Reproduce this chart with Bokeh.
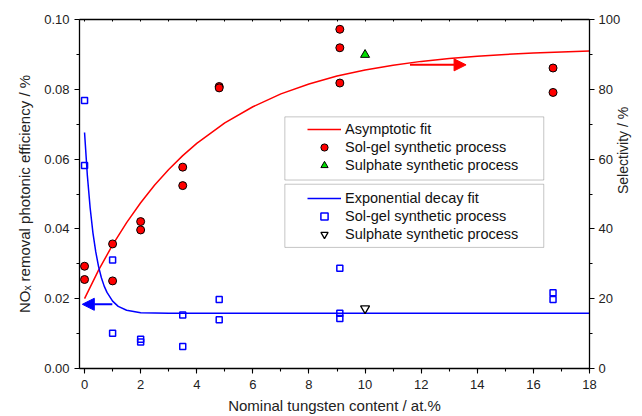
import math
from bokeh.plotting import figure
from bokeh.models import (Range1d, LinearAxis, SingleIntervalTicker, PrintfTickFormatter,
                          Legend, LegendItem, BoxAnnotation, Arrow, NormalHead)
from bokeh.embed import file_html
from bokeh.resources import INLINE

# ---------------- data ----------------
# Selectivity (%) - right axis, red
sel_x = [0, 0, 1, 1, 2, 2, 3.5, 3.5, 4.8, 4.8, 9.1, 9.1, 9.1, 16.7, 16.7]
sel_y = [29.3, 25.5, 35.7, 25.1, 42.1, 39.7, 57.7, 52.4, 80.8, 80.4, 97.2, 91.9, 81.8, 86.1, 79.1]
sel_sulph_x = [10.0]
sel_sulph_y = [89.9]
# Asymptotic fit curve
asym_x = [0, 0.5, 1, 1.5, 2, 2.5, 3, 3.5, 4, 5, 6, 7, 8, 9, 10, 11, 12, 13, 14, 15, 16, 17, 18]
asym_y = [20.0, 28.2, 35.4, 41.8, 47.5, 52.6, 57.0, 61.0, 64.5, 70.4, 75.0, 78.7, 81.5, 83.8,
          85.5, 86.9, 88.0, 88.8, 89.5, 90.0, 90.4, 90.7, 91.0]

# NOx removal photonic efficiency (%) - left axis, blue
eff_x = [0, 0, 1, 1, 2, 2, 3.5, 3.5, 4.8, 4.8, 9.1, 9.1, 9.1, 16.7, 16.7]
eff_y = [0.0768, 0.0582, 0.0311, 0.0101, 0.0084, 0.0076, 0.0153, 0.0063, 0.0198, 0.0140,
         0.0287, 0.0158, 0.0143, 0.0217, 0.0198]
eff_sulph_x = [10.0]
eff_sulph_y = [0.0172]
# Exponential decay fit curve
dec_x = [0, 0.1, 0.2, 0.3, 0.4, 0.5, 0.6, 0.7, 0.8, 1.0, 1.2, 1.5, 2.0, 2.5, 3.0, 18]
dec_y = [0.0676, 0.0553, 0.0460, 0.0388, 0.0334, 0.0292, 0.0260, 0.0236, 0.0218, 0.0193,
         0.0178, 0.0167, 0.0160, 0.0159, 0.0158, 0.0158]

FONT = "Liberation Sans"

p = figure(width=642, height=416, output_backend="svg", toolbar_location=None,
           x_range=Range1d(-0.18, 18), y_range=Range1d(0, 0.1),
           min_border_left=79, min_border_right=53, min_border_top=19, min_border_bottom=47)
p.extra_y_ranges = {"sel": Range1d(0, 100)}
p.grid.visible = False
p.outline_line_color = None
p.background_fill_color = "white"
p.border_fill_color = "white"

def style_axis(ax, label_size="13px"):
    ax.axis_line_color = "black"
    ax.axis_line_width = 1.3
    ax.major_tick_line_color = "black"
    ax.minor_tick_line_color = "black"
    ax.major_tick_line_width = 1.1
    ax.minor_tick_line_width = 1.1
    ax.major_tick_out = 5
    ax.major_tick_in = 0
    ax.minor_tick_out = 3
    ax.minor_tick_in = 0
    ax.major_label_text_font = FONT
    ax.major_label_text_font_size = label_size
    ax.major_label_text_color = "#222222"
    ax.axis_label_text_font = FONT
    ax.axis_label_text_font_style = "normal"
    ax.axis_label_text_color = "#222222"

# bottom x axis
xa = p.xaxis[0]
xa.ticker = SingleIntervalTicker(interval=2, num_minor_ticks=2)
xa.axis_label = "Nominal tungsten content / at.%"
style_axis(xa)
xa.axis_label_text_font_size = "15px"
xa.major_label_standoff = 6
xa.axis_label_standoff = 5

# left y axis
ya = p.yaxis[0]
ya.ticker = SingleIntervalTicker(interval=0.02, num_minor_ticks=2)
ya.formatter = PrintfTickFormatter(format="%.2f")
ya.axis_label = "NO\u2093 removal photonic efficiency / %"
style_axis(ya)
ya.axis_label_text_font_size = "15px"
ya.axis_label_standoff = 8

# right y axis
ra = LinearAxis(y_range_name="sel", axis_label="Selectivity / %",
                ticker=SingleIntervalTicker(interval=20, num_minor_ticks=2))
style_axis(ra)
ra.axis_label_text_font_size = "14px"
ra.major_label_standoff = 4
ra.axis_label_standoff = 0
ra.axis_label_orientation = math.pi / 2
p.add_layout(ra, "right")

# top axis (ticks only)
ta = LinearAxis(ticker=SingleIntervalTicker(interval=1, num_minor_ticks=0))
ta.axis_line_color = "black"
ta.axis_line_width = 1.3
ta.major_tick_in = 2
ta.major_tick_out = 0
ta.major_tick_line_color = "black"
ta.minor_tick_line_color = None
ta.major_label_text_font_size = "0px"
ta.major_label_text_alpha = 0
ta.major_label_standoff = 0
p.add_layout(ta, "above")

RED = "#ff0000"
BLUE = "#0000ff"
GREEN = "#00dd00"

# curves
r_asym = p.line(asym_x, asym_y, y_range_name="sel", line_color=RED, line_width=1.5)
r_dec = p.line(dec_x, dec_y, line_color=BLUE, line_width=1.5)

# points
r_eff = p.scatter(eff_x, eff_y, marker="square", size=6, fill_color=None,
                  line_color=BLUE, line_width=1.5)
r_eff_s = p.scatter(eff_sulph_x, eff_sulph_y, marker="inverted_triangle", size=9,
                    fill_color=None, line_color="black", line_width=1.3)
r_sel = p.scatter(sel_x, sel_y, y_range_name="sel", marker="circle", size=8,
                  fill_color=RED, line_color="black", line_width=1)
r_sel_s = p.scatter(sel_sulph_x, sel_sulph_y, y_range_name="sel", marker="triangle", size=9,
                    fill_color=GREEN, line_color="black", line_width=1)

# arrows indicating axes
p.add_layout(Arrow(end=NormalHead(size=12, fill_color=RED, line_color=RED),
                   x_start=11.6, y_start=87, x_end=13.6, y_end=87,
                   y_range_name="sel", line_color=RED, line_width=2))
p.add_layout(Arrow(end=NormalHead(size=12, fill_color=BLUE, line_color=BLUE),
                   x_start=0.99, y_start=0.0184, x_end=-0.08, y_end=0.0184,
                   line_color=BLUE, line_width=2))

# legend frames
p.add_layout(BoxAnnotation(left=7.14, right=16.37, bottom=0.054, top=0.0721,
                           fill_alpha=0, line_color="#404040", line_width=1))
p.add_layout(BoxAnnotation(left=7.14, right=16.37, bottom=0.0347, top=0.0528,
                           fill_alpha=0, line_color="#404040", line_width=1))

def make_legend(items, loc):
    lg = Legend(items=items, location=loc, orientation="vertical",
                border_line_alpha=0, background_fill_alpha=0,
                padding=0, margin=0, spacing=0,
                glyph_width=34, glyph_height=18, label_height=18,
                label_standoff=4, label_text_font=FONT,
                label_text_font_size="14.5px", label_text_color="#111111",
                label_text_baseline="middle")
    return lg

lg1 = make_legend([LegendItem(label="Asymptotic fit", renderers=[r_asym]),
                   LegendItem(label="Sol-gel synthetic process", renderers=[r_sel]),
                   LegendItem(label="Sulphate synthetic process", renderers=[r_sel_s])],
                  (228, 194))
lg2 = make_legend([LegendItem(label="Exponential decay fit", renderers=[r_dec]),
                   LegendItem(label="Sol-gel synthetic process", renderers=[r_eff]),
                   LegendItem(label="Sulphate synthetic process", renderers=[r_eff_s])],
                  (228, 125))
p.add_layout(lg1, "center")
p.add_layout(lg2, "center")

open("out.html", "w").write(file_html(p, INLINE))
